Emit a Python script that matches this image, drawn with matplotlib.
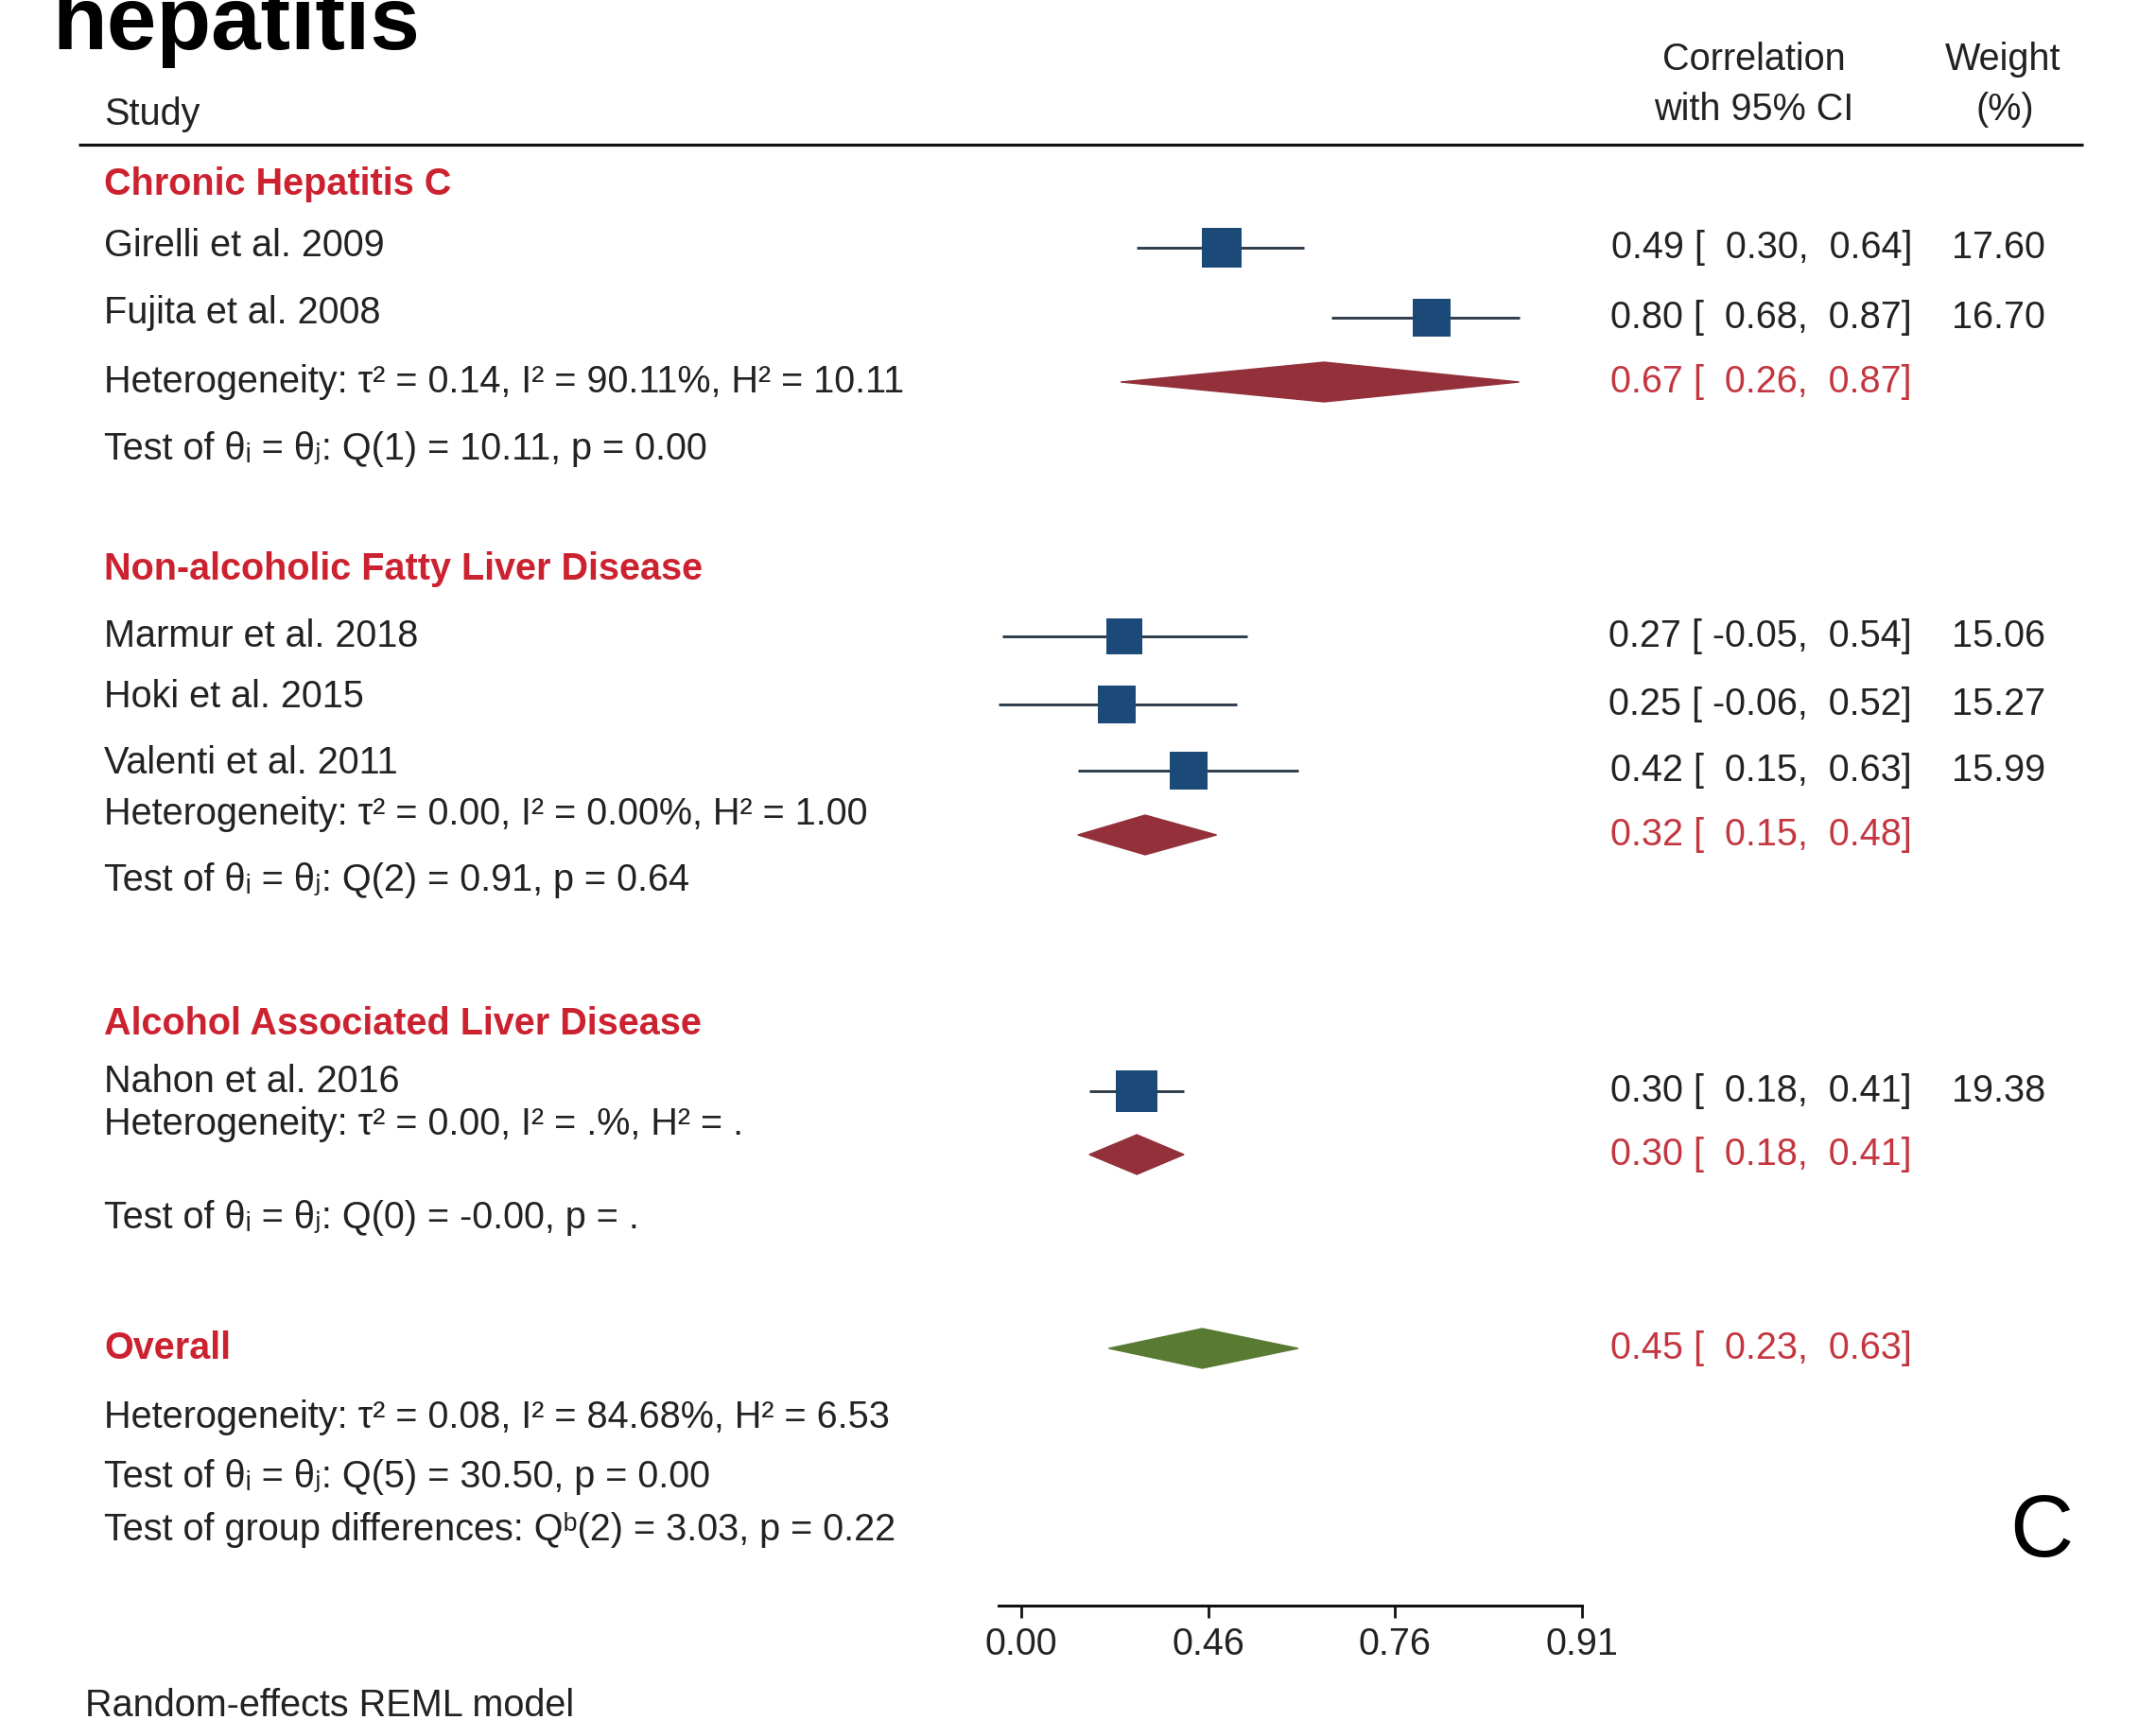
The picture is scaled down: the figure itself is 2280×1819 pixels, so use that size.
import numpy as np
import matplotlib
matplotlib.use("Agg")
import matplotlib.pyplot as plt
from matplotlib import font_manager
from matplotlib.patches import Polygon

# ---------------------------------------------------------------- data
studies = ["Girelli et al. 2009", "Fujita et al. 2008",
           "Marmur et al. 2018", "Hoki et al. 2015", "Valenti et al. 2011",
           "Nahon et al. 2016"]
study_es = [0.49, 0.80, 0.27, 0.25, 0.42, 0.30]
study_lo = [0.30, 0.68, -0.05, -0.06, 0.15, 0.18]
study_hi = [0.64, 0.87, 0.54, 0.52, 0.63, 0.41]
weights = [17.60, 16.70, 15.06, 15.27, 15.99, 19.38]

groups = ["Chronic Hepatitis C", "Non-alcoholic Fatty Liver Disease",
          "Alcohol Associated Liver Disease"]
group_es = [0.67, 0.32, 0.30]
group_lo = [0.26, 0.15, 0.18]
group_hi = [0.87, 0.48, 0.41]
group_het = ["Heterogeneity: τ² = 0.14, I² = 90.11%, H² = 10.11",
             "Heterogeneity: τ² = 0.00, I² = 0.00%, H² = 1.00",
             "Heterogeneity: τ² = 0.00, I² = .%, H² = ."]
group_test = ["Test of θᵢ = θⱼ: Q(1) = 10.11, p = 0.00",
              "Test of θᵢ = θⱼ: Q(2) = 0.91, p = 0.64",
              "Test of θᵢ = θⱼ: Q(0) = -0.00, p = ."]

overall_es, overall_lo, overall_hi = 0.45, 0.23, 0.63
overall_notes = ["Heterogeneity: τ² = 0.08, I² = 84.68%, H² = 6.53",
                 "Test of θᵢ = θⱼ: Q(5) = 30.50, p = 0.00",
                 "Test of group differences: Qᵇ(2) = 3.03, p = 0.22"]

tick_z = [0.0, 0.5, 1.0, 1.5]          # ticks evenly spaced on Fisher z
tick_labels = ["0.00", "0.46", "0.76", "0.91"]

# ---------------------------------------------------------------- layout (pixels from top)
W, H, DPI = 2280, 1819, 100
Z0, ZS = 1080, 395                     # pixel of z = 0 and pixels per z unit
AXIS_Y = 1698

y_header = [195, 602, 1083]
y_study_txt = [260, 331, 673, 737, 807, 1144]
y_study_mark = [262, 336, 673, 745, 815, 1154]
y_het = [404, 861, 1189]
y_gdiam = [404, 883, 1221]
y_test = [475, 931, 1288]
y_overall = 1426
y_overall_notes = [1499, 1562, 1618]

X_LEFT = 110
X_CI = 2022
X_W = 2163

# ---------------------------------------------------------------- style
names = {f.name for f in font_manager.fontManager.ttflist}
if "Liberation Sans Narrow" in names:
    BODY = ["Liberation Sans Narrow", "DejaVu Sans"]
    FS = 34
else:
    BODY = ["Liberation Sans", "DejaVu Sans"]
    FS = 28.5

BLACK = "#222222"
RED_HEAD = "#cc2230"
RED_NUM = "#c4363f"
SQUARE = "#1c4a78"
WHISKER = "#2e3c4a"
GROUP_DIAM = "#93303a"
OVERALL_DIAM = "#587a33"

fig = plt.figure(figsize=(W / DPI, H / DPI), dpi=DPI, facecolor="white")

# text layer covering the whole figure, in pixel coordinates
tax = fig.add_axes([0, 0, 1, 1])
tax.set_xlim(0, W)
tax.set_ylim(H, 0)
tax.axis("off")


def txt(x, y, s, color=BLACK, ha="left", weight="normal", size=FS, family=None):
    tax.text(x, y, s, color=color, ha=ha, va="center", fontsize=size,
             fontweight=weight, family=family or BODY)


def ci_label(es, lo, hi):
    return f"{es:.2f} [{lo:6.2f}, {hi:5.2f}]"


# title fragment at the top
tax.text(55, 52, "hepatitis", fontsize=68, fontweight="bold",
         family=["Liberation Sans", "DejaVu Sans"], va="baseline", ha="left",
         color="black")

# column headers
txt(X_LEFT, 121, "Study")
txt(1855, 63, "Correlation", ha="center")
txt(1855, 116, "with 95% CI", ha="center")
txt(2118, 63, "Weight", ha="center")
txt(2120, 116, "(%)", ha="center")
tax.plot([83, 2203], [153, 153], color="#111111", lw=2.3, solid_capstyle="butt")

# forest panel: x on a Fisher-z (atanh) scale
fx0, fx1 = 1000, 1750
fax = fig.add_axes([fx0 / W, (H - AXIS_Y) / H, (fx1 - fx0) / W, (AXIS_Y - 150) / H])
fax.set_xscale("function", functions=(np.arctanh, np.tanh))
fax.set_xlim(np.tanh((fx0 - Z0) / ZS), np.tanh((fx1 - Z0) / ZS))
fax.set_ylim(AXIS_Y, 150)
fax.patch.set_visible(False)
for side in ("top", "left", "right"):
    fax.spines[side].set_visible(False)
fax.spines["bottom"].set_linewidth(2.2)
fax.spines["bottom"].set_color("#111111")
fax.spines["bottom"].set_bounds(min(study_lo), np.tanh(tick_z[-1]))
fax.set_yticks([])
fax.set_xticks(np.tanh(tick_z))
fax.set_xticklabels(tick_labels, family=BODY, fontsize=FS, color=BLACK)
fax.xaxis.set_minor_locator(matplotlib.ticker.NullLocator())
fax.tick_params(axis="x", direction="out", length=9, width=2.0, pad=7,
                color="#111111")

# study rows
for i, name in enumerate(studies):
    txt(X_LEFT, y_study_txt[i], name)
    fax.hlines(y_study_mark[i], study_lo[i], study_hi[i], color=WHISKER,
               lw=2.1, zorder=2)
    side_pt = 10.0 * np.sqrt(weights[i]) * 0.72
    fax.scatter([study_es[i]], [y_study_mark[i]], marker="s", s=side_pt ** 2,
                color=SQUARE, linewidths=0, zorder=3)
    txt(X_CI, y_study_mark[i], ci_label(study_es[i], study_lo[i], study_hi[i]),
        ha="right")
    txt(X_W, y_study_mark[i], f"{weights[i]:.2f}", ha="right")


def diamond(es, lo, hi, y, color, half=21):
    poly = Polygon([(lo, y), (es, y - half), (hi, y), (es, y + half)],
                   closed=True, facecolor=color, edgecolor=color, lw=1, zorder=3)
    fax.add_patch(poly)


# subgroup headers, pooled estimates and tests
for g, name in enumerate(groups):
    txt(X_LEFT, y_header[g], name, color=RED_HEAD, weight="bold")
    txt(X_LEFT, y_het[g], group_het[g])
    txt(X_LEFT, y_test[g], group_test[g])
    diamond(group_es[g], group_lo[g], group_hi[g], y_gdiam[g], GROUP_DIAM)
    txt(X_CI, y_gdiam[g], ci_label(group_es[g], group_lo[g], group_hi[g]),
        ha="right", color=RED_NUM)

# overall
txt(X_LEFT, y_overall, "Overall", color=RED_HEAD, weight="bold")
diamond(overall_es, overall_lo, overall_hi, y_overall, OVERALL_DIAM)
txt(X_CI, y_overall, ci_label(overall_es, overall_lo, overall_hi),
    ha="right", color=RED_NUM)
for y, s in zip(y_overall_notes, overall_notes):
    txt(X_LEFT, y, s)

# panel letter and model note
tax.text(2159, 1622, "C", fontsize=67, family=["Liberation Sans", "DejaVu Sans"],
         ha="center", va="center", color="black")
txt(90, 1804, "Random-effects REML model")

fig.savefig("out.png", dpi=DPI, facecolor="white")
